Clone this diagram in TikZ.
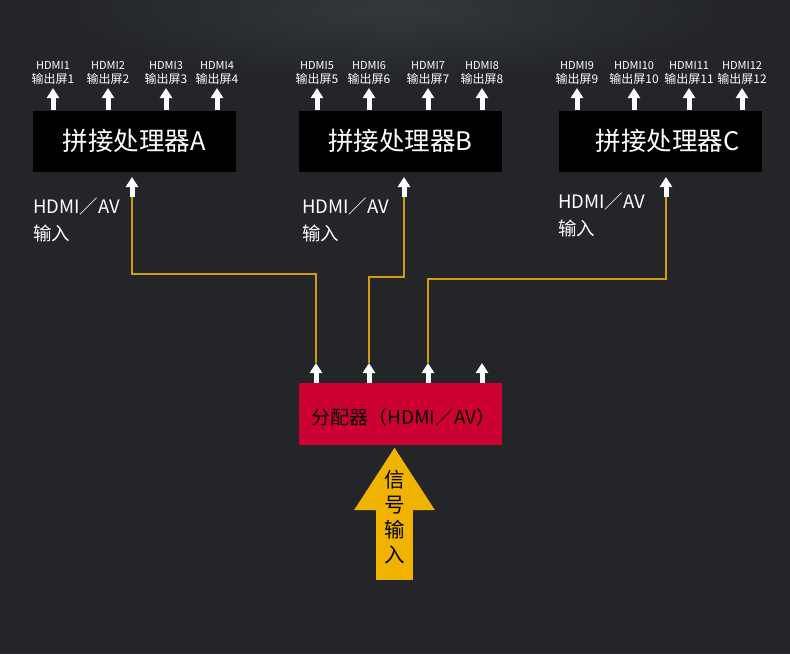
\documentclass[tikz,border=0pt]{standalone}
\usepackage{fontspec}
\setmainfont{Noto Sans CJK SC}
\usetikzlibrary{arrows.meta,positioning}
\definecolor{bg}{HTML}{232529}
\definecolor{glow}{HTML}{34373C}
\definecolor{splitred}{HTML}{CC0033}
\definecolor{wire}{HTML}{D09C10}
\definecolor{sigyellow}{HTML}{F0B400}
\tikzset{
	proc/.style={fill=black, minimum width=203pt, minimum height=61pt, inner sep=0pt, text=white, font=\fontsize{25.5}{26}\selectfont},
	outlbl/.style={text=white, inner sep=0pt, font=\fontsize{12}{12}\selectfont},
	hdmilbl/.style={text=white, inner sep=0pt, font=\fontsize{11}{11}\selectfont},
	inlbl/.style={text=white, inner sep=0pt, align=left, font=\fontsize{18.5}{27}\selectfont},
	whitearrow/.style={draw=white, line width=5pt, -{Triangle[width=12pt,length=10pt]}},
	cable/.style={draw=wire, line width=1.1pt},
}

\begin{document}
\begin{tikzpicture}[x=1pt,y=-1pt]
\useasboundingbox (0,0) rectangle (790,654);
\fill[bg] (0,0) rectangle (790,654);
\begin{scope}
	\clip (0,0) rectangle (790,654);
	\shade[inner color=glow, outer color=bg] (395,10) ellipse [x radius=330pt, y radius=70pt];
\end{scope}

% processors and splitter
\node[proc] (procA) at (134.5,141) {拼接处理器A};
\node[proc] (procB) at (400.5,141) {拼接处理器B};
\node[proc] (procC) at (660.5,141) {\hspace*{14pt}拼接处理器C};
\node[proc, fill=splitred, minimum height=62pt] (split) at (400.5,414) {};
\node[inner sep=0pt, font=\fontsize{19}{19}\selectfont] (splitlbl) at ([xshift=3pt,yshift=-3pt]split.center) {分配器（HDMI／AV）};

% screen outputs
\foreach \x [count=\i] in {53,108,166,217,317,369,428,482,577,634,689,742} {
	\coordinate (o\i) at (\x,110);
	\coordinate (t\i) at (\x,88);
	\draw[whitearrow] (o\i) -- (t\i);
	\node[outlbl, above=3pt of t\i] (scr\i) {输出屏\i};
	\node[hdmilbl, above=4pt of scr\i] (hdmi\i) {HDMI\i};
}

% splitter outputs
\foreach \x [count=\i] in {316,369,428,482} {
	\coordinate (sb\i) at (\x,383);
	\coordinate (sp\i) at (\x,363);
}
\coordinate (inA) at (132,197);  \coordinate (tipA) at (132,177);
\coordinate (inB) at (404,197);  \coordinate (tipB) at (404,177);
\coordinate (inC) at (666,197);  \coordinate (tipC) at (666,177);
\coordinate (kA) at (316,274);
\coordinate (kB) at (369,277);
\coordinate (kC) at (428,279);

\draw[cable] (inA) |- (kA) -- (sp1);
\draw[cable] (inB) |- (kB) -- (sp2);
\draw[cable] (inC) |- (kC) -- (sp3);

\foreach \i in {1,...,4} \draw[whitearrow] (sb\i) -- (sp\i);
\draw[whitearrow] (inA) -- (tipA);
\draw[whitearrow] (inB) -- (tipB);
\draw[whitearrow] (inC) -- (tipC);

\node[inlbl, anchor=north west] (lblA) at (33,198) {HDMI／AV\\输入};
\node[inlbl, anchor=north west] (lblB) at (302,198) {HDMI／AV\\输入};
\node[inlbl, anchor=north west] (lblC) at (558,193) {HDMI／AV\\输入};

% signal input
\coordinate (sigbase) at (394.5,580);
\coordinate (sigtip) at (394.5,447);
\draw[sigyellow, line width=37pt, -{Triangle[width=76pt,length=63pt]}] (sigbase) -- (sigtip);
\node[align=center, inner sep=0pt, font=\fontsize{20.5}{25}\selectfont] (sig) at (394.5,517) {信\\号\\输\\入};
\end{tikzpicture}
\end{document}
